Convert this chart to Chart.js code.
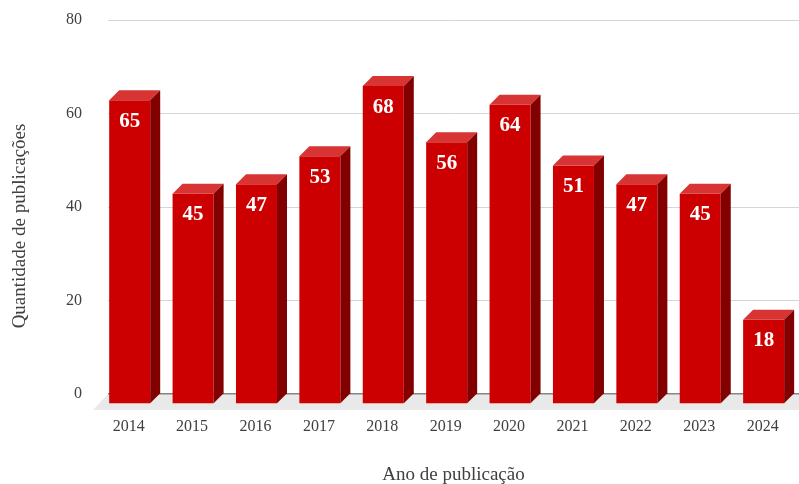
<!DOCTYPE html>
<html>
<head>
<meta charset="utf-8">
<script src="https://cdn.jsdelivr.net/npm/chart.js@4/dist/chart.umd.min.js"></script>
<style>
  html, body { margin: 0; padding: 0; background: #fff; }
</style>
</head>
<body>
<canvas id="pubChart" width="799" height="484"></canvas>
<script>
var years = [2014, 2015, 2016, 2017, 2018, 2019, 2020, 2021, 2022, 2023, 2024];
var counts = [65, 45, 47, 53, 68, 56, 64, 51, 47, 45, 18];
var yTickValues = [0, 20, 40, 60, 80];
var xTitle = "Ano de publicação";
var yTitle = "Quantidade de publicações";

// depth of the fake 3d bars
var depthX = 10;
var depthY = 10;

var serif = "'Liberation Serif', 'DejaVu Serif', serif";

var bar3d = {
  id: "bar3d",
  beforeDraw: function (chart) {
    // floor under the bars
    var c = chart.ctx;
    var a = chart.chartArea;
    c.save();
    c.fillStyle = "#e9e9e9";
    c.beginPath();
    c.moveTo(a.left, a.bottom);
    c.lineTo(a.right + 20, a.bottom);
    c.lineTo(a.right + 5, a.bottom + 16);
    c.lineTo(a.left - 15, a.bottom + 16);
    c.closePath();
    c.fill();
    c.restore();
  },
  beforeDatasetsDraw: function (chart) {
    chart.ctx.save();
    chart.ctx.translate(-depthX, depthY);
  },
  afterDatasetsDraw: function (chart) {
    var c = chart.ctx;
    c.restore();
    var meta = chart.getDatasetMeta(0);
    meta.data.forEach(function (el, i) {
      var p = el.getProps(["x", "y", "base", "width"], true);
      var bl = p.x - p.width / 2;
      var br = p.x + p.width / 2;
      var bt = p.y;
      var fl = bl - depthX;
      var fr = br - depthX;
      var ft = bt + depthY;

      // top face
      c.fillStyle = "#d83434";
      c.beginPath();
      c.moveTo(fl, ft);
      c.lineTo(fr, ft);
      c.lineTo(br, bt);
      c.lineTo(bl, bt);
      c.closePath();
      c.fill();

      // side face
      c.fillStyle = "#820000";
      c.beginPath();
      c.moveTo(fr, ft);
      c.lineTo(br, bt);
      c.lineTo(br, p.base);
      c.lineTo(fr, p.base + depthY);
      c.closePath();
      c.fill();

      // value label
      c.fillStyle = "#ffffff";
      c.font = "bold 21px " + serif;
      c.textAlign = "center";
      c.textBaseline = "middle";
      c.fillText(String(counts[i]), p.x - depthX, ft + 21);
    });
  },
  afterDraw: function (chart) {
    var c = chart.ctx;
    c.save();
    c.translate(20, 226);
    c.rotate(-Math.PI / 2);
    c.fillStyle = "#404040";
    c.font = "19px " + serif;
    c.textAlign = "center";
    c.textBaseline = "middle";
    c.fillText(yTitle, 0, 0);
    c.restore();
  },
};

var ctx = document.getElementById("pubChart");
new Chart(ctx, {
  type: "bar",
  data: {
    datasets: [
      {
        data: years.map(function (yr, i) {
          return { x: yr, y: counts[i] };
        }),
        backgroundColor: "#cc0000",
        borderWidth: 0,
        categoryPercentage: 1,
        barPercentage: 0.647,
        clip: false,
      },
    ],
  },
  options: {
    responsive: false,
    animation: false,
    layout: { padding: { top: 20, right: 0, left: 0, bottom: 0 } },
    plugins: {
      legend: { display: false },
      tooltip: { enabled: false },
    },
    scales: {
      x: {
        type: "linear",
        offset: false,
        min: 2013.5,
        max: 2024.4,
        afterBuildTicks: function (scale) {
          scale.ticks = years.map(function (v) { return { value: v }; });
        },
        afterFit: function (scale) {
          scale.height = 90;
          scale.paddingLeft = 0;
          scale.paddingRight = 0;
        },
        grid: { display: false, drawTicks: false, offset: false },
        border: { display: false },
        ticks: {
          padding: 23,
          labelOffset: -11,
          color: "#404040",
          font: { family: serif, size: 16 },
          callback: function (v) { return String(v); },
        },
        title: {
          display: true,
          text: xTitle,
          color: "#404040",
          font: { family: serif, size: 19 },
          padding: { top: 0, bottom: -2 },
        },
      },
      y: {
        min: 0,
        max: 80,
        afterBuildTicks: function (scale) {
          scale.ticks = yTickValues.map(function (v) { return { value: v }; });
        },
        afterFit: function (scale) {
          scale.width = 108;
          scale.paddingTop = 0;
          scale.paddingBottom = 0;
        },
        grid: {
          drawTicks: false,
          color: function (c) { return c.tick && c.tick.value === 0 ? "#868686" : "#d6d6d6"; },
          lineWidth: function (c) { return c.tick && c.tick.value === 0 ? 1.5 : 1; },
        },
        border: { display: false },
        ticks: {
          padding: 26,
          color: "#404040",
          font: { family: serif, size: 16 },
        },
      },
    },
  },
  plugins: [bar3d],
});
</script>
</body>
</html>
